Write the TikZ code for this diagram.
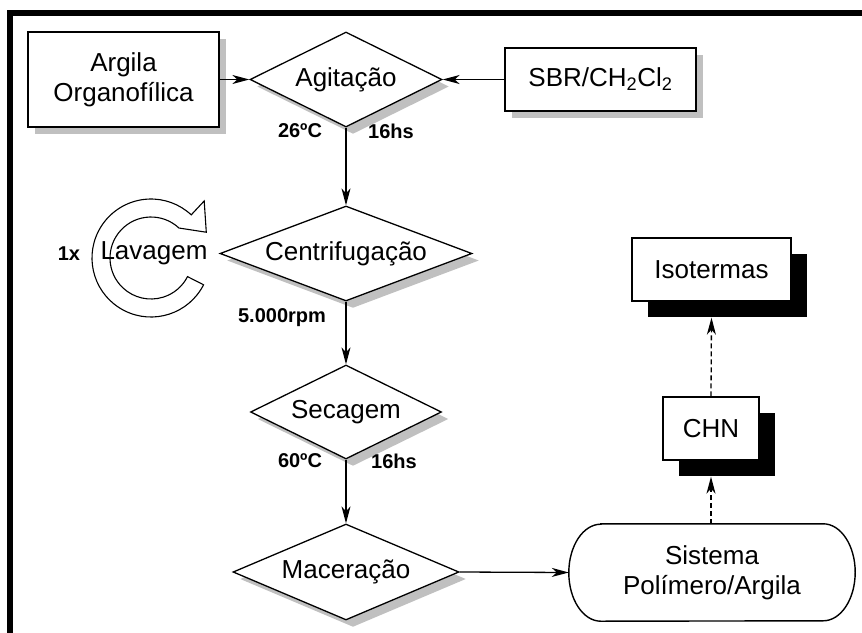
\documentclass[tikz,border=0pt]{standalone}
\usepackage{fontspec}
\setmainfont{Liberation Sans}
\usetikzlibrary{arrows.meta,shapes.geometric,shadows}
\definecolor{shadowgray}{RGB}{192,192,192}
\tikzset{
  mainfont/.style={font=\fontsize{26}{30}\selectfont},
  tagfont/.style={font=\fontsize{20}{23}\selectfont\bfseries},
  conn/.style={line width=1.3pt, -{Stealth[length=17pt,width=9pt,inset=5pt]}},
  dconn/.style={conn, dash pattern=on 5pt off 3pt},
  greyshadow/.style={drop shadow={shadow xshift=7pt, shadow yshift=-7pt, fill=shadowgray, opacity=1}},
  blackshadow/.style={drop shadow={shadow xshift=16pt, shadow yshift=-16pt, fill=black, opacity=1}},
  inbox/.style={rectangle, draw, line width=1.3pt, fill=white, inner sep=0pt, align=center, mainfont, greyshadow},
  outbox/.style={rectangle, draw, line width=1.3pt, fill=white, inner sep=0pt, align=center, mainfont, blackshadow},
  stage/.style={diamond, aspect=2.7, draw, line width=1.3pt, fill=white, inner sep=0pt, mainfont, greyshadow},
  tag/.style={inner sep=0pt, tagfont},
}
\begin{document}
\begin{tikzpicture}[x=1pt,y=-1pt]
\useasboundingbox (0,0) rectangle (862,632);

% heavy frame along the top and left edges
\draw[line width=6pt, line join=miter] (10,645) -- (10,13) -- (875,13);

% inputs
\node[inbox, minimum width=191pt, minimum height=95pt] (argila) at (123.5,79.5) {Argila\\Organofílica};
\node[inbox, minimum width=191pt, minimum height=63pt] (sbr) at (600.5,79.5) {SBR/CH\textsubscript{2}Cl\textsubscript{2}};

% process stages
\node[stage, minimum width=192pt, minimum height=95pt] (agit) at (346,79.5) {Agitação};
\node[stage, minimum width=252pt, minimum height=95pt] (centr) at (346,253.5) {Centrifugação};
\node[stage, minimum width=191pt, minimum height=94pt] (sec) at (346,412) {Secagem};
\node[stage, minimum width=226pt, minimum height=96pt] (mac) at (346,572) {Maceração};

% process conditions
\node[tag] (t26) at (300,131) {26ºC};
\node[tag] (t16a) at (391,131) {16hs};
\node[tag] (rpm) at (282,318) {5.000rpm};
\node[tag] (t60) at (300,461) {60ºC};
\node[tag] (t16b) at (394,461) {16hs};

% washing loop
\begin{scope}[shift={(151,258)}]
\filldraw[fill=white, line width=1.1pt, line join=miter]
  (27:59) arc[start angle=27, end angle=313, radius=59]
  -- (313:78) -- (335:61) -- (313:41)
  arc[start angle=313, end angle=27, radius=41] -- cycle;
\end{scope}
\node[tag] (once) at (69,254) {1x};
\node[inner sep=0pt, mainfont] (lav) at (154,253) {Lavagem};

% product
\node[rectangle, inner sep=0pt, minimum width=286pt, minimum height=97pt, align=center, mainfont] (sist) at (712,572.5) {Sistema\\Polímero/Argila};
\draw[line width=1.4pt]
  ([xshift=32pt]sist.north west) -- ([xshift=-32pt]sist.north east)
  arc[x radius=32, y radius=48.5, start angle=-90, end angle=90]
  -- ([xshift=32pt]sist.south west)
  arc[x radius=32, y radius=48.5, start angle=90, end angle=270] -- cycle;

% characterisation
\node[outbox, minimum width=96pt, minimum height=63pt] (chn) at (711,428.5) {CHN};
\node[outbox, minimum width=159pt, minimum height=63pt] (iso) at (711.5,269.5) {Isotermas};
\coordinate (chnshadow) at ([yshift=-16pt]chn.south);
\coordinate (isoshadow) at ([yshift=-16pt]iso.south);

% connectors
\draw[conn] (argila.east) -- (agit.west);
\draw[conn] (sbr.west) -- (agit.east);
\draw[conn] (agit.south) -- (centr.north);
\draw[conn] (centr.south) -- (sec.north);
\draw[conn] (sec.south) -- (mac.north);
\draw[conn] (mac.east) -- (sist.west);
\draw[dconn] (sist.north -| chn.south) -- (chnshadow);
\draw[dconn] (chn.north) -- (isoshadow);
\end{tikzpicture}
\end{document}
